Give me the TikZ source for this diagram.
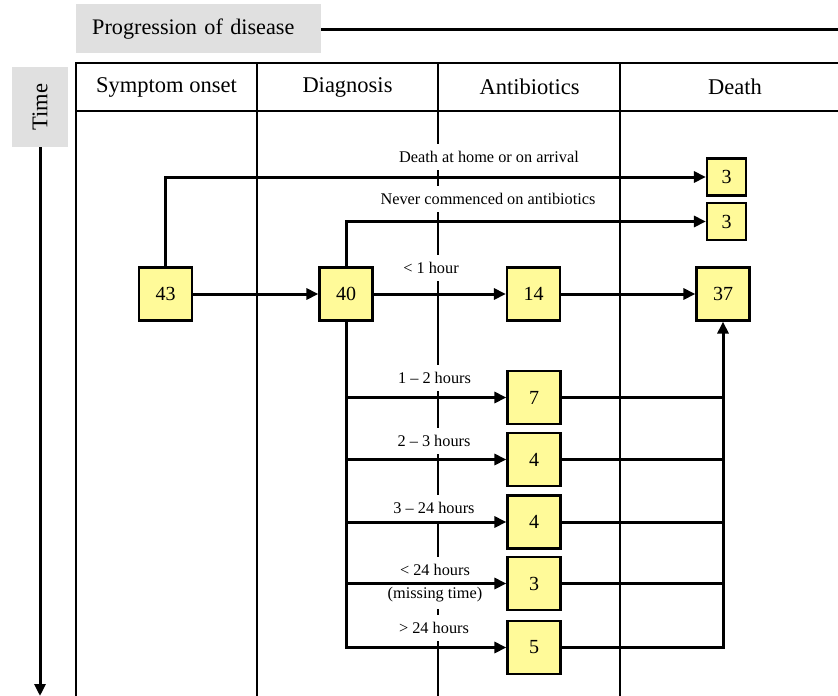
\documentclass[tikz,border=0pt]{standalone}
\usepackage{fontspec}
\setmainfont{Liberation Serif}
\usetikzlibrary{arrows.meta}

\begin{document}
\begin{tikzpicture}[x=1pt,y=-1pt,
    grid/.style={line width=2pt},
    banner/.style={fill=black!12,inner sep=0pt},
    head/.style={font=\fontsize{22.5}{27}\selectfont},
    count/.style={draw,line width=2.2pt,fill=yellow!40,minimum width=53pt,minimum height=53pt,inner sep=0pt,font=\fontsize{20}{24}\selectfont},
    small/.style={count,minimum width=39pt,minimum height=37pt},
    lbl/.style={fill=white,inner xsep=2pt,inner ysep=7pt,align=center,font=\fontsize{16.3}{23}\selectfont},
    flow/.style={line width=3pt,-{Triangle[length=12pt,width=11pt]}},
    tie/.style={line width=3pt}]
    \useasboundingbox (0,0) rectangle (838,696);
    \node[banner,anchor=north west,minimum height=49pt,text width=213pt,inner xsep=16pt,align=left,font=\fontsize{22.2}{27}\selectfont] (prog) at (76,4) {Progression of disease};
    \coordinate (edge) at (838,29);
    \draw[tie] (prog.east |- edge) -- (edge);
    \node[banner,rotate=90,minimum width=80pt,minimum height=56pt,font=\fontsize{22.5}{27}\selectfont] (time) at (40,107) {Time};
    \coordinate (tend) at (40,696);
    \draw[flow] (time.west) -- (tend);
    \draw[grid] (838,63) -| (76,696);
    \draw[grid] (76,111) -- (838,111);
    \foreach \x in {257,438,620}
        \draw[grid] (\x,63) -- (\x,696);
    \node[head] (h1) at (166.5,87) {Symptom onset};
    \node[head] (h2) at (347.5,87) {Diagnosis};
    \node[head] (h3) at (529.5,87) {Antibiotics};
    \node[head] (h4) at (735,87) {Death};
    \node[count] (n43) at (165.5,294) {43};
    \node[count] (n40) at (346,294) {40};
    \node[count] (n14) at (533.5,294) {14};
    \node[count] (n37) at (723,294) {37};
    \node[small] (d1) at (726.5,177) {3};
    \node[small] (d2) at (726.5,221.5) {3};
    \foreach \y/\v/\n in {397.5/7/1,459.5/4/2,522/4/3,583.5/3/4,647.5/5/5}
        \node[count] (t\n) at (534,\y) {\v};
    \node[lbl] (l1) at (489,157) {Death at home or on arrival};
    \node[lbl] (l2) at (488,199) {Never commenced on antibiotics};
    \node[lbl] (l3) at (431,268) {< 1 hour};
    \node[lbl] (l4) at (434.5,378) {1 – 2 hours};
    \node[lbl] (l5) at (434,441) {2 – 3 hours};
    \node[lbl] (l6) at (434,508) {3 – 24 hours};
    \node[lbl] (l7) at (435,583) {< 24 hours\\(missing time)};
    \node[lbl] (l8) at (434,628) {> 24 hours};
    \draw[flow] (n43.north) |- (d1.west);
    \draw[flow] (n40.north) |- (d2.west);
    \draw[flow] (n43) -- (n40);
    \draw[flow] (n40) -- (n14);
    \draw[flow] (n14) -- (n37);
    \foreach \n in {1,...,5}
        \draw[flow] (n40.south) |- (t\n.west);
    \foreach \n in {1,...,4}
        \draw[tie] (t\n.east) -- (t\n.east -| n37.south);
    \draw[flow] (t5.east) -| (n37.south);
\end{tikzpicture}
\end{document}
